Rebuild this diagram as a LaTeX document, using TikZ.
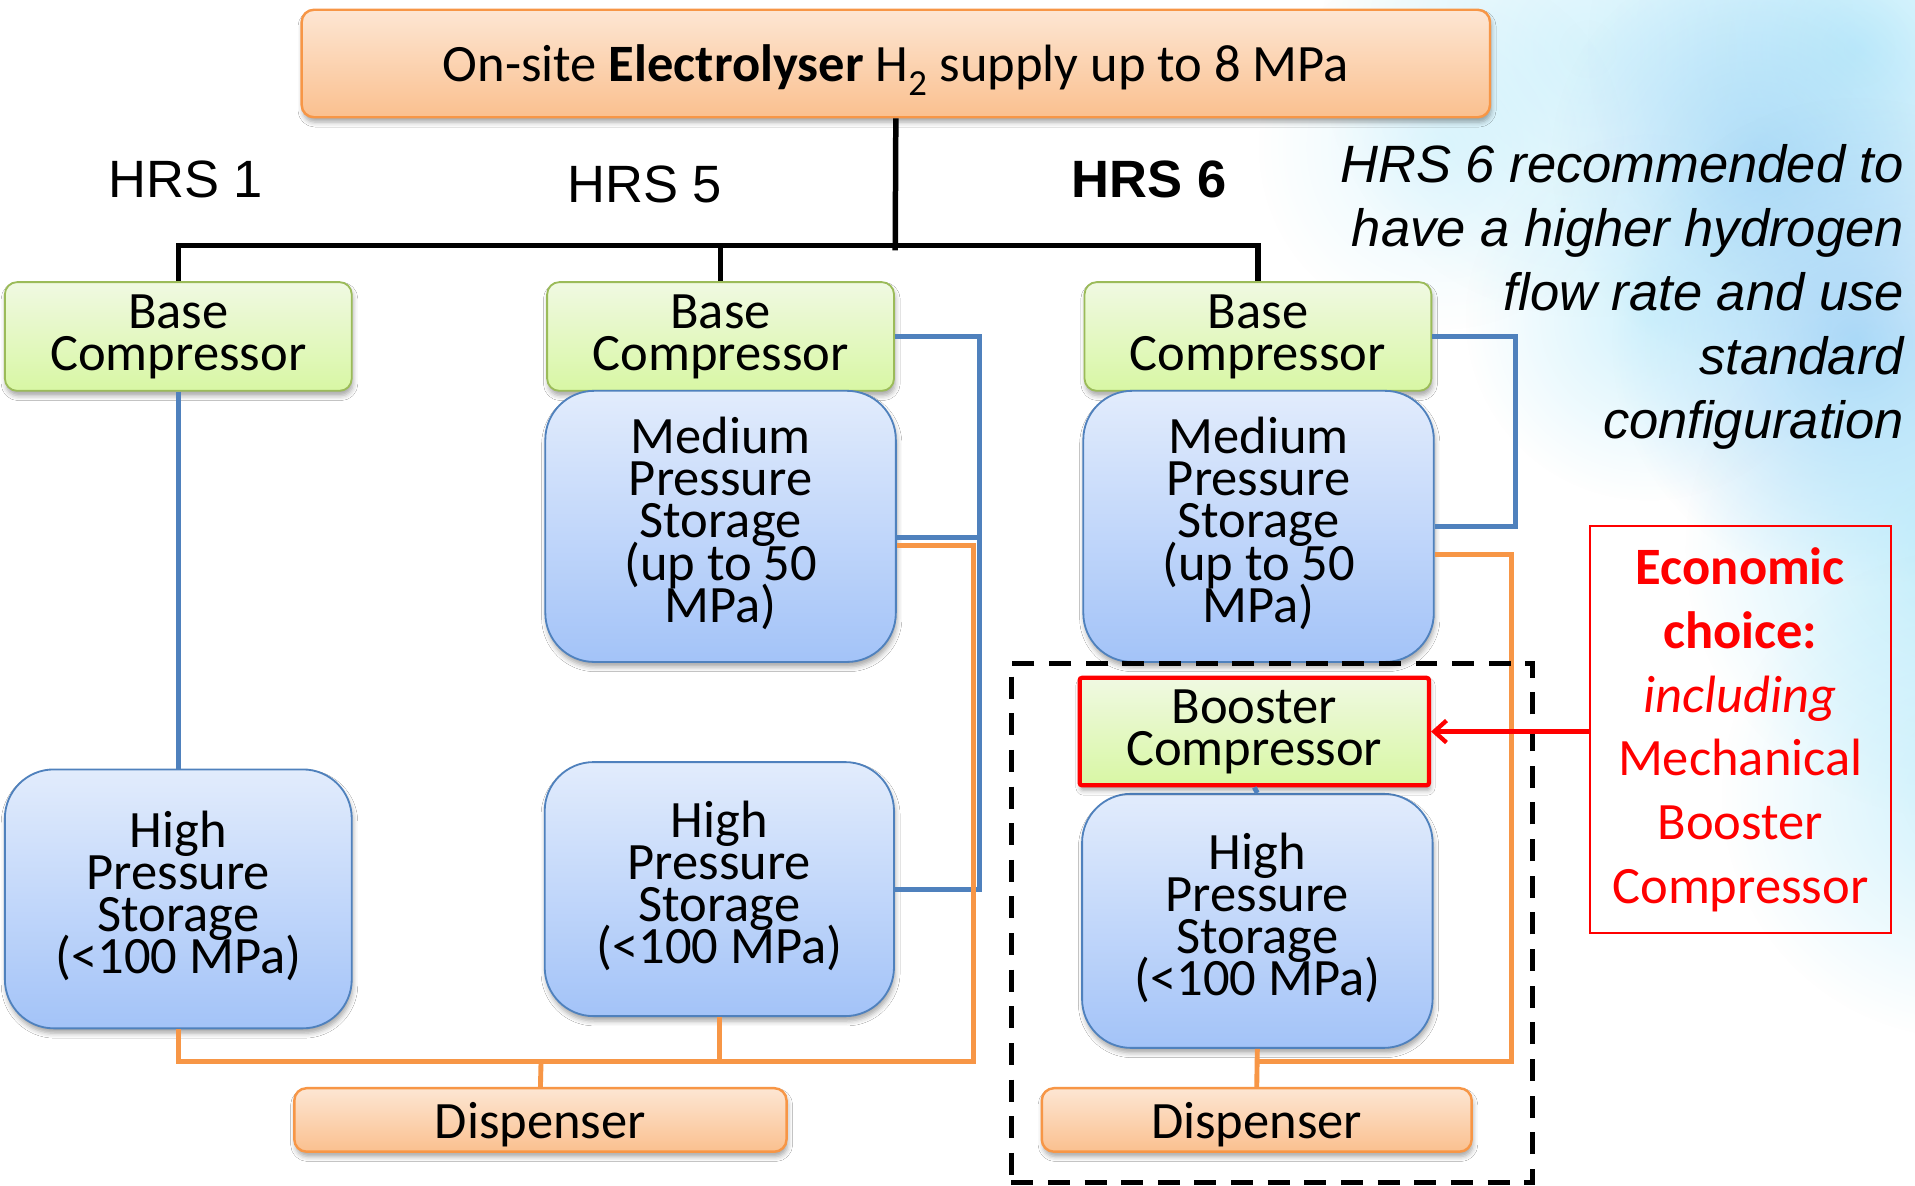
\documentclass[tikz,border=0pt]{standalone}
\usepackage{fontspec}
\setmainfont{Carlito}
\newfontfamily\arialf{Liberation Sans}
\usetikzlibrary{calc,shadows.blur,fadings,arrows.meta}

\definecolor{orangetop}{HTML}{FDE6D3}
\definecolor{orangebot}{HTML}{FAC08F}
\definecolor{orangeedge}{HTML}{F79646}
\definecolor{greentop}{HTML}{F0F9E2}
\definecolor{greenbot}{HTML}{D8F7A4}
\definecolor{greenedge}{HTML}{9BBB59}
\definecolor{bluetop}{HTML}{E2ECFC}
\definecolor{bluebot}{HTML}{A3C3F8}
\definecolor{blueedge}{HTML}{4F81BD}
\definecolor{bokehcyan}{HTML}{A8E6FA}
\definecolor{bokehblue}{HTML}{8FCBF5}
\definecolor{notered}{HTML}{FF0000}

% soft round blob for the background
\tikzfading[name=softdisc, inner color=transparent!0, outer color=transparent!100]

\newcommand\boxfont{\fontsize{43}{34.5}\selectfont\lineskiplimit=-100pt\relax}

\tikzset{
  boxshadow/.style={blur shadow={shadow xshift=1pt, shadow yshift=-4pt,
      shadow blur radius=4pt, shadow opacity=35}},
  boxtext/.style={font=\boxfont, align=center, inner sep=0pt, text=black},
  supplybox/.style={boxtext, draw=orangeedge, line width=2pt,
      rounded corners=10pt, top color=orangetop, bottom color=orangebot,
      boxshadow},
  compbox/.style={boxtext, draw=greenedge, line width=1.5pt,
      rounded corners=10pt, top color=greentop, bottom color=greenbot,
      boxshadow, minimum width=284pt, minimum height=89pt},
  storebox/.style={boxtext, draw=blueedge, line width=1.5pt,
      rounded corners=40pt, top color=bluetop, bottom color=bluebot,
      boxshadow, minimum width=287pt, text depth=11pt},
  hrslabel/.style={font=\arialf\fontsize{43}{50}\selectfont, inner sep=0pt},
  blueline/.style={draw=blueedge, line width=4pt},
  orangeline/.style={draw=orangeedge, line width=4pt},
  treeline/.style={draw=black, line width=4.5pt},
  bokeh/.style={path fading=softdisc}
}

\begin{document}
\begin{tikzpicture}[x=1pt, y=-1pt]
\useasboundingbox (0,0) rectangle (1568,971);
\fill[white] (0,0) rectangle (1568,971);

% soft light-blue background blobs on the right
\fill[bokehcyan, opacity=0.45, bokeh] (1300,40) circle (220);
\fill[bokehcyan, opacity=0.7, bokeh] (1520,40) circle (220);
\fill[bokehblue, opacity=0.55, bokeh] (1440,130) circle (170);
\fill[bokehblue, opacity=0.75, bokeh] (1520,280) circle (200);
\fill[bokehcyan, opacity=0.5, bokeh] (1350,260) circle (150);
\fill[bokehcyan, opacity=0.7, bokeh] (1600,450) circle (220);
\fill[bokehcyan, opacity=0.55, bokeh] (1610,650) circle (200);
\fill[bokehcyan, opacity=0.3, bokeh] (1180,120) circle (150);

% supply box
\node[supplybox, minimum width=973pt, minimum height=88pt, text depth=0pt,
      font=\fontsize{43}{43}\selectfont] (supply) at (733.5,52)
  {On-site \textbf{Electrolyser} H\textsubscript{2} supply up to 8 MPa};

% station labels
\node[hrslabel] (l1) at (152,147) {HRS 1};
\node[hrslabel] (l5) at (528,151) {HRS 5};
\node[hrslabel, font=\arialf\bfseries\fontsize{43}{50}\selectfont] (l6) at (941,147) {HRS 6};

% recommendation note
\node[font=\arialf\itshape\fontsize{43}{52.5}\selectfont, align=right,
      anchor=east, inner sep=0pt] (rec) at (1559,243)
  {HRS 6 recommended to\\have a higher hydrogen\\flow rate and use\\standard\\configuration};

\coordinate (tj) at (733,201);
\coordinate (obus) at (443,869);
\coordinate (obus6) at (1029,869);

% compressors
\node[compbox] (bc1) at (146,275.5) {Base\\Compressor};
\node[compbox] (bc5) at (590,275.5) {Base\\Compressor};
\node[compbox] (bc6) at (1030,275.5) {Base\\Compressor};

% medium pressure storage
\node[storebox, minimum height=222pt] (mp5) at (590,431)
  {Medium\\Pressure\\Storage\\(up to 50\\MPa)};
\node[storebox, minimum height=222pt] (mp6) at (1030.5,431)
  {Medium\\Pressure\\Storage\\(up to 50\\MPa)};

% high pressure storage
\node[storebox, minimum width=284pt, minimum height=212pt] (hp1) at (146,736)
  {High\\Pressure\\Storage\\(<100 MPa)};
\node[storebox, minimum width=286pt, minimum height=208pt] (hp5) at (589,728)
  {High\\Pressure\\Storage\\(<100 MPa)};
\node[storebox, minimum height=208pt] (hp6) at (1029.5,754)
  {High\\Pressure\\Storage\\(<100 MPa)};

% booster compressor
\node[compbox, draw=notered, line width=3.5pt, rounded corners=2pt,
      minimum width=286pt, minimum height=88pt] (boost) at (1027,599)
  {Booster\\Compressor};

% dispensers
\node[supplybox, minimum width=403pt, minimum height=52pt, text depth=0pt] (disp1) at (442.5,917)
  {Dispenser};
\node[supplybox, minimum width=352pt, minimum height=52pt, text depth=0pt] (disp6) at (1029,917)
  {Dispenser};

% supply tree
\draw[treeline] (supply.south) -- ($(tj)+(0,4)$);
\draw[treeline] (bc1.north) -- (bc1.north |- tj) -- (bc6.north |- tj) -- (bc6.north);
\draw[treeline] (bc5.north) -- (bc5.north |- tj);

% HRS 1 lines
\draw[blueline] (bc1.south) -- (hp1.north);
\draw[orangeline] (hp1.south) -- (hp1.south |- obus) -- (obus);

% HRS 5 lines
\draw[blueline] (bc5.east) -- ++(69,0) |- (hp5.east);
\draw[blueline] ($(mp5.east)+(0,9)$) -- ++(67,0);
\draw[orangeline] ($(mp5.east)+(0,16)$) -- ++(63,0) |- (obus);
\draw[orangeline] (hp5.south) -- (hp5.south |- obus);
\draw[orangeline] (disp1.north) -- (obus);

% HRS 6 lines
\draw[blueline] (bc6.east) -- ++(68,0) |- (mp6.east);
\draw[orangeline] ($(mp6.east)+(0,23)$) -- ++(63,0) |- (obus6);
\draw[orangeline] (hp6.south) -- (disp6.north);
\draw[blueline] (boost.south) -- (hp6.north);

% booster group
\node[draw=black, line width=4pt, dash pattern=on 18pt off 12pt,
      minimum width=427pt, minimum height=425pt, inner sep=0pt] (group) at (1041.5,755.5) {};

% economic choice note
\node[draw=notered, line width=1.5pt, minimum width=246pt, minimum height=333pt,
      text=notered, align=center, inner sep=0pt,
      font=\fontsize{43}{52.2}\selectfont] (econ) at (1425,597.5)
  {\textbf{Economic}\\\textbf{choice:}\\\textit{including}\\Mechanical\\Booster\\Compressor};
\draw[notered, line width=3.5pt, -{Straight Barb[length=10pt,width=18pt,line width=3.5pt]}]
  (econ.west |- boost.east) -- (boost.east);
\end{tikzpicture}
\end{document}
